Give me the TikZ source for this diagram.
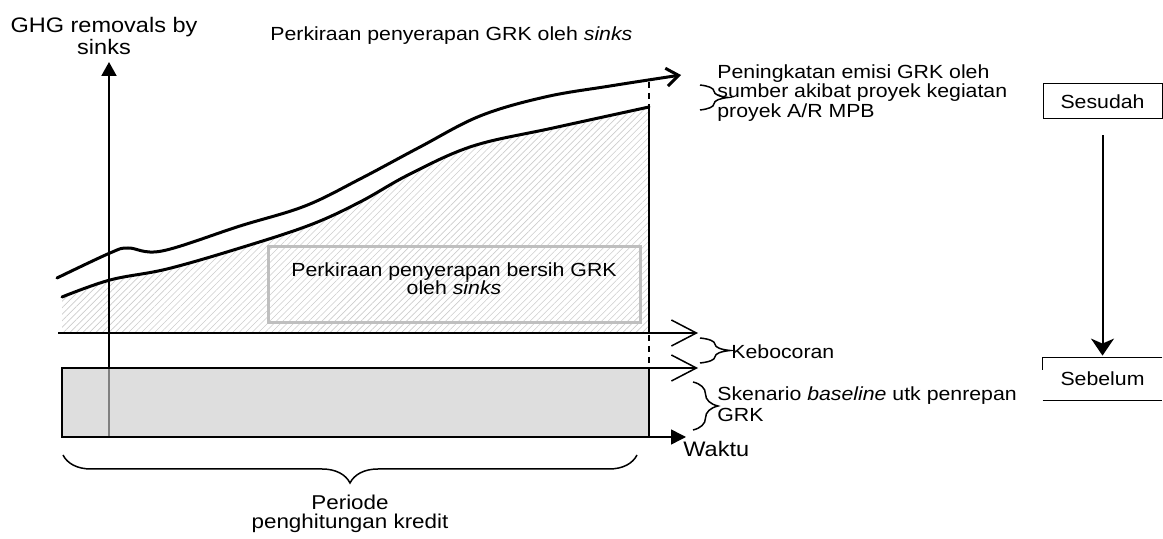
\documentclass[tikz,border=0pt]{standalone}
\usepackage{fontspec}
\setmainfont{Liberation Sans}[FakeStretch=1.12]
\usetikzlibrary{arrows.meta,patterns.meta,decorations.pathreplacing}

\begin{document}
\begin{tikzpicture}[x=0.5pt,y=-0.5pt,
  lbl/.style={inner sep=0pt, font=\fontsize{9.5}{10}\selectfont},
  curve/.style={line width=1.5pt, line cap=round, line join=round},
  edge/.style={line width=1.2pt},
  thinline/.style={line width=0.75pt},
  chevron/.style={thinline, -{Straight Barb[length=12.5pt,width=13pt,line width=0.75pt]}},
  brc/.style={thinline, decorate, decoration={brace, amplitude=#1}},
  brc/.default=7pt,
  hatch/.style={pattern={Lines[angle=45,distance=2.3pt,line width=0.3pt]}, pattern color=black!20},
  framebox/.style={draw, line width=0.5pt, inner sep=0pt, font=\fontsize{9.5}{10}\selectfont},
]
\useasboundingbox (0,0) rectangle (1163,539);

% ---- key points of the chart
\coordinate (O)    at (109,437);
\coordinate (ytop) at (109,62);
\coordinate (xend) at (686,437);
\coordinate (ybox) at (109,368);

% net removals curve and gross removals curve
\def\netcurve{(62,297) (110,280) (167,269) (240,248) (310,225) (360,202) (410,174) (473,146) (553,128) (649,107)}
\def\grosscurve{(57,278) (110,253) (128,248) (162,251) (240,226) (305,206) (360,179) (420,147) (480,116) (545,97) (610,86) (681,75)}

% ---- hatched area under the net-removal curve
\fill[hatch] plot[smooth, tension=0.6] coordinates {\netcurve} -- (649,333) -- (62,333) -- cycle;

% ---- end of crediting period (dashed)
\draw[thinline, dash pattern=on 3pt off 2.5pt] (649,82) -- (649,437);

% ---- baseline block
\fill[black!13] (62,368) rectangle (649,437);
\draw[line width=1pt, black!50] (O) -- (ybox);
\draw[line width=1pt, -{Triangle[length=7pt,width=7.5pt]}] (ybox) -- (ytop);
\draw[edge] (62,368) rectangle (649,437);

% ---- horizontal extensions and time axis
\draw[chevron] (649,333) -- (698,333);
\draw[chevron] (649,368) -- (698,368);
\draw[thinline, -{Triangle[length=7.5pt,width=7.5pt]}] (649,437) -- (xend);

% ---- project level
\draw[edge] (58,333) -- (649,333) -- (649,107);

% ---- removal curves
\draw[curve] plot[smooth, tension=0.6] coordinates {\netcurve};
\draw[curve, -{Straight Barb[length=6pt,width=9pt]}] plot[smooth, tension=0.6] coordinates {\grosscurve};

% ---- net removals label box
\draw[black!25, line width=1.5pt] (268,247) rectangle (640,323);
\node[lbl, align=center, font=\fontsize{9.5}{9}\selectfont] (net) at (454,279) {Perkiraan penyerapan bersih GRK\\oleh \textit{sinks}};

% ---- axis and heading labels
\node[lbl, align=center, anchor=north, font=\fontsize{10.5}{9.5}\selectfont] (ylab) at (104,17) {GHG removals by\\sinks};
\node[lbl, anchor=base west] (title) at (270,41) {Perkiraan penyerapan GRK oleh \textit{sinks}};
\node[lbl, anchor=base west, font=\fontsize{10.5}{10}\selectfont] (time) at (683,457) {Waktu};

% ---- braces and their labels
\draw[brc=14pt] (700,85) -- (700,110);
\node[lbl, align=left, anchor=north west, font=\fontsize{9.5}{9.75}\selectfont] (emisi) at (717,64) {Peningkatan emisi GRK oleh\\sumber akibat proyek kegiatan\\proyek A/R MPB};

\draw[brc=15pt] (700,338) -- (700,363);
\node[lbl, anchor=west] (leak) at (731,352) {Kebocoran};

\draw[brc=12.5pt] (693,382) -- (693,430);
\node[lbl, align=left, anchor=north west, font=\fontsize{9.5}{10.5}\selectfont] (base) at (717,386) {Skenario \textit{baseline} utk penrepan\\GRK};

\draw[brc=14pt, decoration={mirror}] (63,455) -- (637,455);
\node[lbl, align=center, anchor=north, font=\fontsize{10}{9.5}\selectfont] (period) at (350,495) {Periode\\penghitungan kredit};

% ---- before / after legend
\node[framebox, minimum width=59.5pt, minimum height=17.5pt] (after) at (1102.5,101.5) {Sesudah};
\node[lbl, minimum width=59.5pt, minimum height=21pt] (before) at (1102.5,379) {Sebelum};
\draw[line width=0.5pt] (before.north east) -- (before.north west) -- ++(0,12);
\draw[line width=0.5pt] (before.south west) -- (before.south east);
\draw[line width=1pt, -{Stealth[length=8.5pt,width=11.5pt,inset=2.5pt]}, shorten <=8pt, shorten >=1pt] (after.south) -- (before.north);
\end{tikzpicture}
\end{document}
